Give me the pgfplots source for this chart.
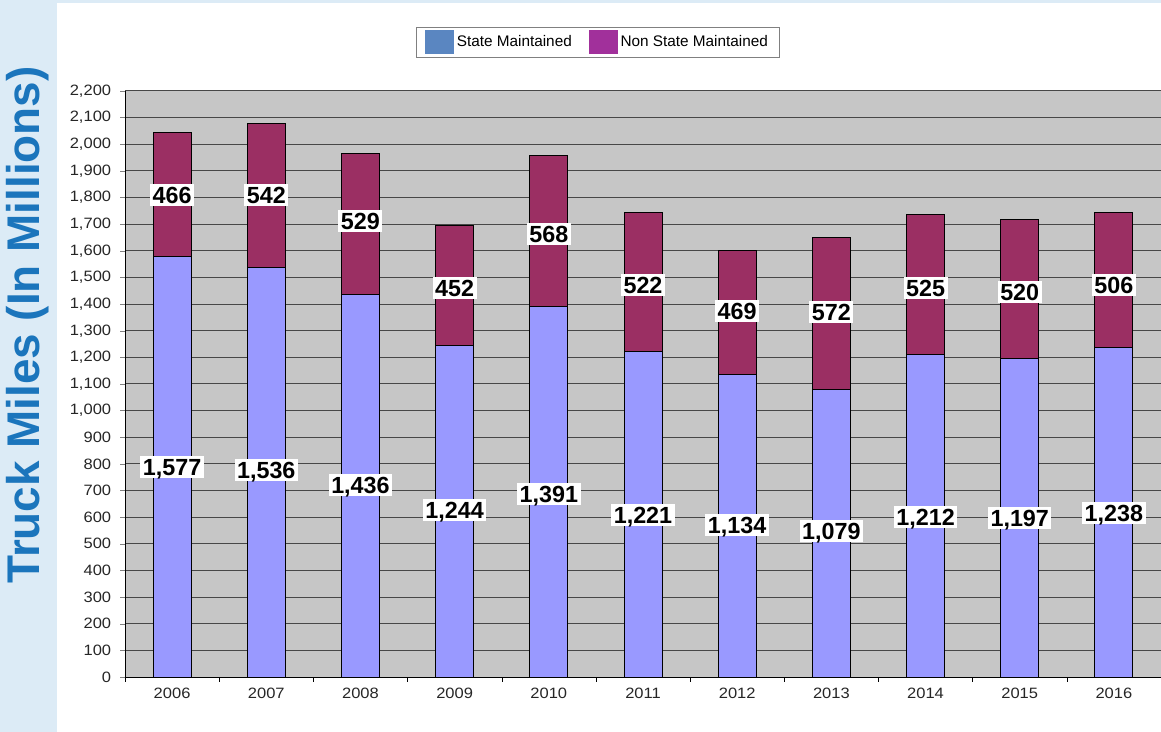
\documentclass[border=0pt]{standalone}
\usepackage{pgfplots}
\pgfplotsset{compat=1.18}
\usepackage{pgfplotstable}
\usepackage{fontspec}
\setmainfont{Liberation Sans}
\newfontfamily\tickfont[FakeStretch=1.1]{Liberation Sans}

\definecolor{bgblue}{HTML}{DCEBF6}
\definecolor{titleblue}{HTML}{1B75BC}
\definecolor{plotgray}{HTML}{C6C6C6}
\definecolor{gridgray}{HTML}{474747}
\definecolor{statebar}{HTML}{9999FF}
\definecolor{nonstatebar}{HTML}{9B2F63}
\definecolor{stateleg}{HTML}{5A86C1}
\definecolor{nonstateleg}{HTML}{A1309B}

% truck miles (millions)
\pgfplotstableread{
x state nonstate
0 1577 466
1 1536 542
2 1436 529
3 1244 452
4 1391 568
5 1221 522
6 1134 469
7 1079 572
8 1212 525
9 1197 520
10 1238 506
}\miles

% where the value boxes sit
\pgfplotstableread{
x y lab
0 1810 466
1 1810 542
2 1712 529
3 1460 452
4 1663 568
5 1472 522
6 1374 469
7 1370 572
8 1460 525
9 1445 520
10 1472 506
0 788 1,577
1 777 1,536
2 721 1,436
3 627 1,244
4 687 1,391
5 608 1,221
6 571 1,134
7 548 1,079
8 601 1,212
9 597 1,197
10 616 1,238
}\labels

\begin{document}
\begin{tikzpicture}
\useasboundingbox (0,0) rectangle (696.6pt,439.2pt);
\fill[bgblue] (0,0) rectangle (696.6pt,439.2pt);
\fill[white] (34.2pt,0) rectangle (696.6pt,437.4pt);
\node[rotate=90, font=\bfseries\fontsize{27.5}{30}\selectfont, text=titleblue]
  at (16.8pt,244.2pt) {Truck Miles (In Millions)};

\begin{axis}[
    at={(75pt,33pt)}, anchor=south west, scale only axis,
    width=621.6pt, height=351.6pt,
    ybar stacked, bar width=22.8pt,
    xmin=-0.5, xmax=10.5, ymin=0, ymax=2200,
    ytick distance=100,
    xtick={0,...,10},
    xticklabels={2006,2007,2008,2009,2010,2011,2012,2013,2014,2015,2016},
    minor xtick={-0.5,0.5,...,10.5},
    major x tick style={draw=none},
    minor x tick style={draw=black},
    tick align=outside, major tick length=2.8pt, minor tick length=2.8pt,
    axis x line*=bottom, axis y line*=left,
    axis line style={black, line width=0.6pt},
    axis background/.style={fill=plotgray},
    ymajorgrids, grid style={gridgray, line width=0.6pt},
    ticklabel style={font=\tickfont\fontsize{9}{10}\selectfont, text=black!85},
    yticklabel style={xshift=-2pt},
    /pgf/number format/assume math mode=true,
    /pgf/number format/1000 sep={,},
    legend style={at={(rel axis cs:0.4566,1.0836)}, anchor=center,
        legend columns=2, draw=gray, fill=white,
        font=\fontsize{9.2}{10}\selectfont, inner xsep=5pt, inner ysep=2pt,
        /tikz/every even column/.append style={column sep=8pt}},
    legend image code/.code={\fill[#1] (0pt,-6.9pt) rectangle (16.8pt,6.9pt);},
]
\addlegendimage{stateleg}
\addlegendimage{nonstateleg}
\addplot[fill=statebar, draw=black, line width=0.6pt] table[x=x,y=state]{\miles};
\addplot[fill=nonstatebar, draw=black, line width=0.6pt] table[x=x,y=nonstate]{\miles};
\legend{State Maintained, Non State Maintained}
\end{axis}

\begin{axis}[
    at={(75pt,33pt)}, anchor=south west, scale only axis,
    width=621.6pt, height=351.6pt,
    xmin=-0.5, xmax=10.5, ymin=0, ymax=2200,
    hide axis, clip=false,
]
\addplot[draw=none, mark=none, nodes near coords, point meta=explicit symbolic,
    nodes near coords style={anchor=center, fill=white,
        font=\bfseries\fontsize{14}{16}\selectfont,
        inner xsep=1.5pt, inner ysep=1.2pt, text height=10.2pt, text depth=0.3pt}]
    table[x=x,y=y,meta=lab]{\labels};
\end{axis}
\end{tikzpicture}
\end{document}
